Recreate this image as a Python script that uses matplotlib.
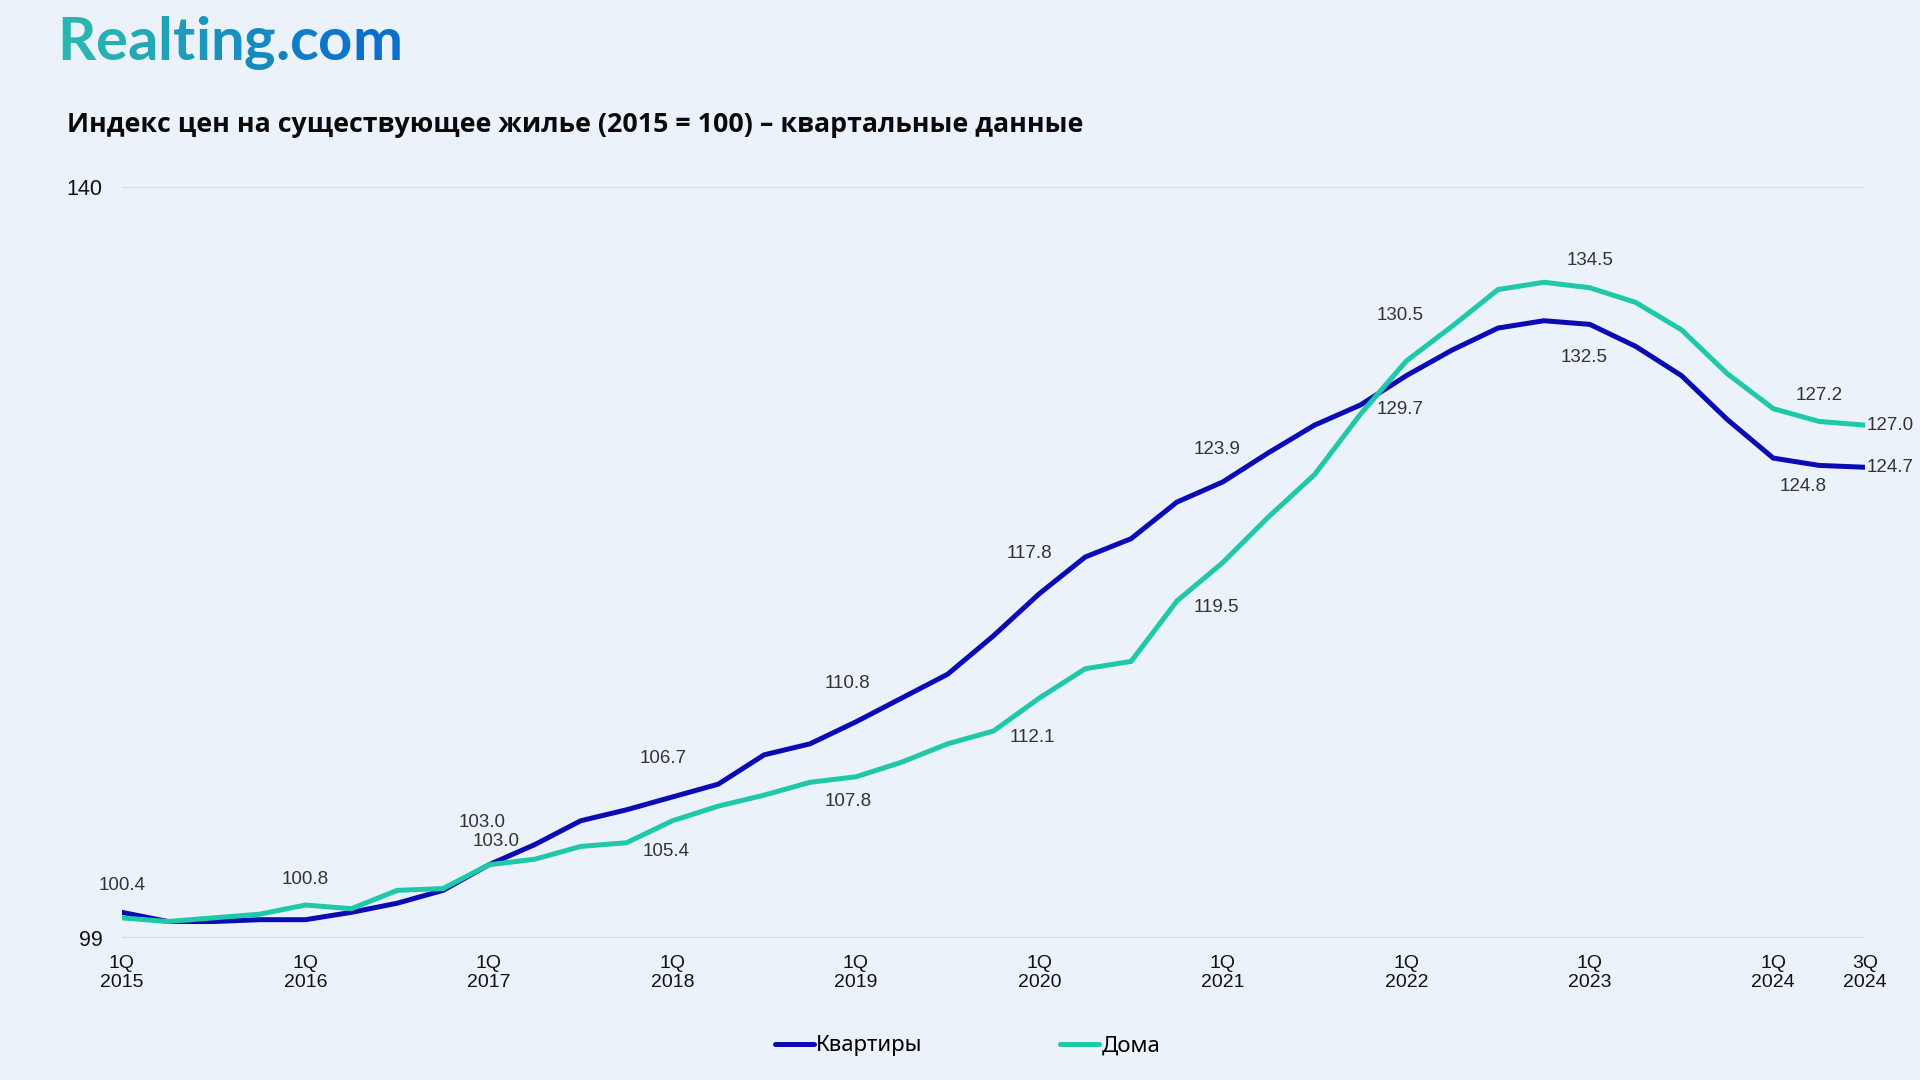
import numpy as np
import matplotlib
matplotlib.use("Agg")
import matplotlib.pyplot as plt
from matplotlib.colors import LinearSegmentedColormap

# quarters 1Q 2015 .. 3Q 2024
quarters = [f"{q}Q {y}" for y in range(2015, 2025) for q in range(1, 5)][:39]

apartments = [100.4, 99.9, 99.9, 100.0, 100.0, 100.4, 100.9, 101.6,
              103.0, 104.1, 105.4, 106.0, 106.7, 107.4, 109.0, 109.6,
              110.8, 112.1, 113.4, 115.5, 117.8, 119.8, 120.8, 122.8,
              123.9, 125.5, 127.0, 128.1, 129.7, 131.1, 132.3, 132.7,
              132.5, 131.3, 129.7, 127.3, 125.2, 124.8, 124.7]
houses = [100.1, 99.9, 100.1, 100.3, 100.8, 100.6, 101.6, 101.7,
          103.0, 103.3, 104.0, 104.2, 105.4, 106.2, 106.8, 107.5,
          107.8, 108.6, 109.6, 110.3, 112.1, 113.7, 114.1, 117.4,
          119.5, 122.0, 124.3, 127.6, 130.5, 132.4, 134.4, 134.8,
          134.5, 133.7, 132.2, 129.8, 127.9, 127.2, 127.0]

series_names = ["Квартиры", "Дома"]
tick_idx = [0, 4, 8, 12, 16, 20, 24, 28, 32, 36, 38]
tick_labels = ["1Q\n2015", "1Q\n2016", "1Q\n2017", "1Q\n2018", "1Q\n2019",
               "1Q\n2020", "1Q\n2021", "1Q\n2022", "1Q\n2023", "1Q\n2024",
               "3Q\n2024"]

title = "Индекс цен на существующее жилье (2015 = 100) – квартальные данные"
logo_text = "Realting.com"

# which points get a value label: (index, offset x px, offset y px, ha)
apt_labels = [(0, 0, 27, "center"), (8, -7, 42, "center"), (12, -9, 38, "center"),
              (16, -8, 38, "center"), (20, -10, 40, "center"), (24, -6, 32, "center"),
              (28, -6, -34, "center"), (32, -6, -33, "center"), (37, -16, -21, "center"),
              (38, 2, 0, "left")]
house_labels = [(4, 0, 26, "center"), (8, 7, 23, "center"), (12, -6, -31, "center"),
                (16, -8, -25, "center"), (20, -7, -39, "center"), (24, -6, -45, "center"),
                (28, -6, 46, "center"), (32, 0, 27, "center"), (37, 0, 26, "center"),
                (38, 2, 0, "left")]

BG = "#ECF2FA"
C_APT = "#0B0BB5"
C_HOUSE = "#1FC8A8"
LABEL_FONT = ["Liberation Sans", "DejaVu Sans"]

fig = plt.figure(figsize=(19.2, 10.8), dpi=100, facecolor=BG)
ax = fig.add_axes([122 / 1920, 1 - 938 / 1080, (1865 - 122) / 1920, (938 - 187) / 1080])
ax.set_facecolor(BG)

x = np.arange(len(quarters))
ax.plot(x, apartments, color=C_APT, lw=3.6, label=series_names[0], solid_joinstyle="miter", zorder=3)
ax.plot(x, houses, color=C_HOUSE, lw=3.6, label=series_names[1], solid_joinstyle="miter", zorder=3)

for vals, labs in [(apartments, apt_labels), (houses, house_labels)]:
    for i, dx, dy, ha in labs:
        ax.annotate(f"{vals[i]:.1f}", (x[i], vals[i]), xytext=(dx, dy),
                    textcoords="offset pixels", ha=ha, va="center",
                    fontsize=13.5, color="#333333", family=LABEL_FONT, zorder=4)

ax.set_xlim(0, len(quarters) - 1)
ax.set_ylim(99, 140)
ax.set_yticks([99, 140])
ax.set_yticklabels(["99", "140"])
ax.set_xticks(tick_idx)
ax.set_xticklabels(tick_labels, linespacing=1.15)
ax.tick_params(axis="both", length=0, labelcolor="#111111")
ax.tick_params(axis="x", pad=12, labelsize=14)
ax.tick_params(axis="y", pad=14, labelsize=15.5)
for lab in ax.get_xticklabels() + ax.get_yticklabels():
    lab.set_family(LABEL_FONT)
for s in ax.spines.values():
    s.set_visible(False)
ax.grid(axis="y", color="#D8DCE2", lw=1.5)
ax.set_axisbelow(True)

# title
fig.text(67 / 1920, 1 - 125 / 1080, title, fontsize=19.3, fontweight="bold",
         family=["Open Sans", "DejaVu Sans"], color="#0A0A0A", va="center", ha="left")

# logo with a teal -> blue gradient, drawn char by char
cmap = LinearSegmentedColormap.from_list("logo", ["#29B6B1", "#0A70CC"])
renderer = fig.canvas.get_renderer()
lx = 57 / 1920
for k, ch in enumerate(logo_text):
    t = fig.text(lx, 1 - 43 / 1080, ch, fontsize=43, fontweight="bold",
                 family=["Lato", "DejaVu Sans"], color=cmap(k / (len(logo_text) - 1)),
                 va="center", ha="left")
    bb = t.get_window_extent(renderer)
    lx = bb.x1 / fig.bbox.width

leg = fig.legend(loc="center", bbox_to_anchor=(0.504, 1 - 1046 / 1080), ncol=2,
                 frameon=False, handlelength=1.75, handletextpad=0.1, columnspacing=6.2,
                 prop={"family": ["Noto Sans", "DejaVu Sans"], "size": 16})
for h in leg.get_lines():
    h.set_linewidth(3.6)
    h.set_solid_capstyle("round")

fig.savefig("out.png", dpi=100, facecolor=BG)
